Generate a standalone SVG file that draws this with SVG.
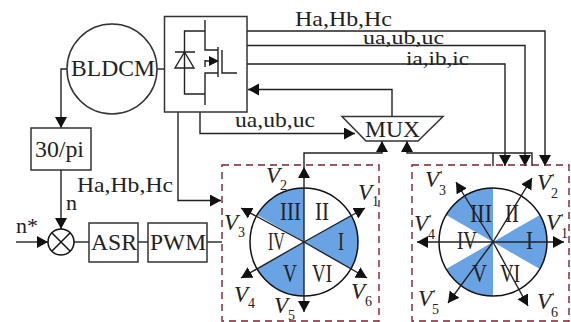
<svg xmlns="http://www.w3.org/2000/svg" width="571" height="322" viewBox="0 0 571 322">
<defs>
<marker id="ah" markerUnits="userSpaceOnUse" markerWidth="13" markerHeight="13" refX="11" refY="6" orient="auto"><path d="M0 0L11 6L0 12Z" fill="#111"/></marker>
</defs>
<style>
.l{fill:none;stroke:#222;stroke-width:1.4}
.a{fill:none;stroke:#222;stroke-width:1.4;marker-end:url(#ah)}
.b{fill:#fff;stroke:#333;stroke-width:1.5}
.d{fill:none;stroke:#7a2230;stroke-width:1.4;stroke-dasharray:7 5}
.s{fill:#69a3e4}
.c{fill:none;stroke:#111;stroke-width:1.5}
text{font-family:"Liberation Serif","Times New Roman",serif;fill:#222;font-size:22px}
.big{font-size:24px}
.t{font-size:19px}
.v{font-style:italic;font-size:23px}
.n{font-size:14px}
.p{font-size:13px}
.r{font-size:25px}
</style>
<rect width="571" height="322" fill="#fff"/>
<g id="connectors">
<path class="a" d="M67 69H61V128"/>
<path class="l" d="M157 69H164.500"/>
<path class="a" d="M61 170V229"/>
<path class="a" d="M16 242H48"/>
<path class="l" d="M74 242H89"/>
<path class="l" d="M138 242H148"/>
<path class="l" d="M207 242H222"/>
<path class="a" d="M178 112V200.500H221"/>
<path class="a" d="M200 112V133.500H355"/>
<path class="a" d="M392 116.500V89.500H248"/>
<path class="a" d="M247 31H545V166"/>
<path class="a" d="M247 45.500H525V166"/>
<path class="a" d="M247 64H505V166"/>
<path class="a" d="M304 167V153H382V141"/>
<path class="a" d="M493 166V153H407V141"/>
<path class="l" d="M493 153H532V166"/>
</g>
<g id="bldcm"><circle class="b" cx="112" cy="69" r="45"/><text class="big" x="71" y="76" textLength="84" lengthAdjust="spacingAndGlyphs">BLDCM</text></g>
<g id="inverter">
<rect class="b" x="164.500" y="16.500" width="82.500" height="95.500"/>
<path class="l" d="M205 20V50H218M205 105V73H218M218 47V77M222 50V73H237M205 94H184.500V31H205M175 52H195M205 60V67M205 61H211"/>
<path class="l" d="M184.500 52L175 68H194Z"/>
<path d="M209 56L219 61L209 66Z" fill="#111"/>
</g>
<g id="pi"><rect class="b" x="31" y="128" width="60" height="42"/><text class="big" x="35" y="157" textLength="49" lengthAdjust="spacingAndGlyphs">30/pi</text></g>
<g id="sum"><circle class="c" cx="61" cy="242" r="13"/><path class="c" d="M52 233L70 251M70 233L52 251"/></g>
<g id="asr"><rect class="b" x="89" y="223" width="49" height="39"/><text class="big" x="91" y="250" textLength="46" lengthAdjust="spacingAndGlyphs">ASR</text></g>
<g id="pwm"><rect class="b" x="148" y="223" width="59" height="39"/><text class="big" x="150" y="250" textLength="56" lengthAdjust="spacingAndGlyphs">PWM</text></g>
<g id="mux"><path class="b" d="M342 116.500H443L418 141H366Z"/><text class="big" x="365" y="137" textLength="55" lengthAdjust="spacingAndGlyphs">MUX</text></g>
<g id="labels">
<text x="295" y="26" textLength="97" lengthAdjust="spacingAndGlyphs">Ha,Hb,Hc</text>
<text class="t" x="363" y="44" textLength="81" lengthAdjust="spacingAndGlyphs">ua,ub,uc</text>
<text class="t" x="406" y="65" textLength="63" lengthAdjust="spacingAndGlyphs">ia,ib,ic</text>
<text x="235" y="127" textLength="80" lengthAdjust="spacingAndGlyphs">ua,ub,uc</text>
<text x="77" y="192" textLength="96" lengthAdjust="spacingAndGlyphs">Ha,Hb,Hc</text>
<text x="66" y="210">n</text>
<text x="16" y="233">n*</text>
</g>
<g id="hex-left">
<rect class="d" x="222" y="165" width="157" height="156"/>
<path class="s" d="M304 242L350.800 215A54 54 0 0 1 350.800 269Z"/>
<path class="s" d="M304 242V188A54 54 0 0 0 257.200 215Z"/>
<path class="s" d="M304 242L257.200 269A54 54 0 0 0 304 296Z"/>
<circle class="c" cx="304" cy="242" r="54"/>
<path class="a" d="M304 242V167"/><path class="a" d="M304 242V312"/>
<path class="a" d="M304 242L365 208"/><path class="a" d="M304 242L241 208"/>
<path class="a" d="M304 242L241 278"/><path class="a" d="M304 242L367 278"/>
<text class="r" x="280" y="220" textLength="21" lengthAdjust="spacingAndGlyphs">III</text>
<text class="r" x="315" y="220" textLength="14" lengthAdjust="spacingAndGlyphs">II</text>
<text class="r" x="338" y="250" textLength="6" lengthAdjust="spacingAndGlyphs">I</text>
<text class="r" x="268" y="250" textLength="17" lengthAdjust="spacingAndGlyphs">IV</text>
<text class="r" x="283" y="282" textLength="14" lengthAdjust="spacingAndGlyphs">V</text>
<text class="r" x="312" y="282" textLength="20" lengthAdjust="spacingAndGlyphs">VI</text>
<text class="v" x="266" y="183">V</text><text class="n" x="280" y="190">2</text>
<text class="v" x="358" y="200">V</text><text class="n" x="372" y="206">1</text>
<text class="v" x="224" y="230">V</text><text class="n" x="238" y="237">3</text>
<text class="v" x="234" y="302">V</text><text class="n" x="248" y="308">4</text>
<text class="v" x="274" y="313">V</text><text class="n" x="288" y="320">5</text>
<text class="v" x="351" y="299">V</text><text class="n" x="365" y="306">6</text>
</g>
<g id="hex-right">
<rect class="d" x="412" y="165" width="157" height="156"/>
<path class="s" d="M493 242L539.800 215A54 54 0 0 1 539.800 269Z"/>
<path class="s" d="M493 242V188A54 54 0 0 0 446.200 215Z"/>
<path class="s" d="M493 242L446.200 269A54 54 0 0 0 493 296Z"/>
<circle class="c" cx="493" cy="242" r="54"/>
<path class="a" d="M493 242H564"/><path class="a" d="M493 242H417"/>
<path class="a" d="M493 242L532 178"/><path class="a" d="M493 242L448 303"/>
<path class="a" d="M493 242L456 182"/><path class="a" d="M493 242L528 306"/>
<text class="r" x="470" y="222" textLength="22" lengthAdjust="spacingAndGlyphs">III</text>
<text class="r" x="505" y="222" textLength="14" lengthAdjust="spacingAndGlyphs">II</text>
<text class="r" x="526" y="249" textLength="7" lengthAdjust="spacingAndGlyphs">I</text>
<text class="r" x="457" y="249" textLength="20" lengthAdjust="spacingAndGlyphs">IV</text>
<text class="r" x="472" y="282" textLength="15" lengthAdjust="spacingAndGlyphs">V</text>
<text class="r" x="500" y="282" textLength="20" lengthAdjust="spacingAndGlyphs">VI</text>
<text class="v" x="425" y="187">V</text><text class="p" x="440" y="179">'</text><text class="n" x="439" y="195">3</text>
<text class="v" x="537" y="190">V</text><text class="p" x="552" y="182">'</text><text class="n" x="551" y="198">2</text>
<text class="v" x="546" y="230">V</text><text class="p" x="561" y="222">'</text><text class="n" x="561" y="238">1</text>
<text class="v" x="414" y="231">V</text><text class="p" x="429" y="223">'</text><text class="n" x="428" y="239">4</text>
<text class="v" x="418" y="306">V</text><text class="p" x="433" y="298">'</text><text class="n" x="432" y="314">5</text>
<text class="v" x="537" y="309">V</text><text class="p" x="552" y="301">'</text><text class="n" x="551" y="317">6</text>
</g>
</svg>
